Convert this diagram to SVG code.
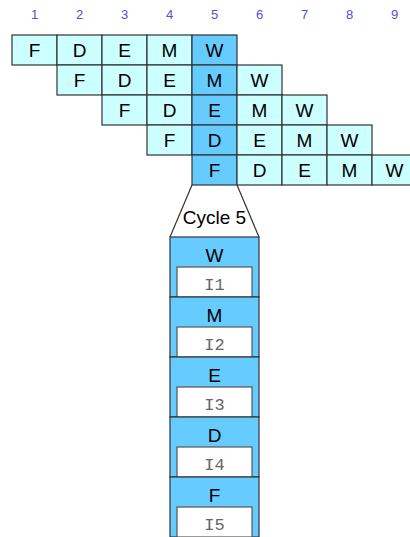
<svg xmlns="http://www.w3.org/2000/svg" width="410" height="537" viewBox="0 0 410 537">
<style>
.num{font-family:"Liberation Sans",Arial,sans-serif;font-size:13px;fill:#5050d8;text-anchor:middle}
.c{fill:#ccffff;stroke:#333;stroke-width:1.2}
.d{fill:#66ccff;stroke:#333;stroke-width:1.2}
.t{font-family:"Liberation Sans",Arial,sans-serif;font-size:19px;fill:#000;text-anchor:middle}
.w{fill:#fff;stroke:#555;stroke-width:1.2}
.m{font-family:"Liberation Mono","Courier New",monospace;font-size:17px;fill:#666;text-anchor:middle}
.ln{stroke:#333;stroke-width:1.2;fill:none}
</style>
<rect width="410" height="537" fill="#fff"/>
<g id="header">
<text class="num" x="34.5" y="19">1</text>
<text class="num" x="79.5" y="19">2</text>
<text class="num" x="124.5" y="19">3</text>
<text class="num" x="169.5" y="19">4</text>
<text class="num" x="214.5" y="19">5</text>
<text class="num" x="259.5" y="19">6</text>
<text class="num" x="304.5" y="19">7</text>
<text class="num" x="349.5" y="19">8</text>
<text class="num" x="394.5" y="19">9</text>
</g>
<g id="row1">
<rect class="c" x="12" y="35" width="45" height="30"/><text class="t" x="34.5" y="57">F</text>
<rect class="c" x="57" y="35" width="45" height="30"/><text class="t" x="79.5" y="57">D</text>
<rect class="c" x="102" y="35" width="45" height="30"/><text class="t" x="124.5" y="57">E</text>
<rect class="c" x="147" y="35" width="45" height="30"/><text class="t" x="169.5" y="57">M</text>
<rect class="d" x="192" y="35" width="45" height="30"/><text class="t" x="214.5" y="57">W</text>
</g>
<g id="row2">
<rect class="c" x="57" y="65" width="45" height="30"/><text class="t" x="79.5" y="87">F</text>
<rect class="c" x="102" y="65" width="45" height="30"/><text class="t" x="124.5" y="87">D</text>
<rect class="c" x="147" y="65" width="45" height="30"/><text class="t" x="169.5" y="87">E</text>
<rect class="d" x="192" y="65" width="45" height="30"/><text class="t" x="214.5" y="87">M</text>
<rect class="c" x="237" y="65" width="45" height="30"/><text class="t" x="259.5" y="87">W</text>
</g>
<g id="row3">
<rect class="c" x="102" y="95" width="45" height="30"/><text class="t" x="124.5" y="117">F</text>
<rect class="c" x="147" y="95" width="45" height="30"/><text class="t" x="169.5" y="117">D</text>
<rect class="d" x="192" y="95" width="45" height="30"/><text class="t" x="214.5" y="117">E</text>
<rect class="c" x="237" y="95" width="45" height="30"/><text class="t" x="259.5" y="117">M</text>
<rect class="c" x="282" y="95" width="45" height="30"/><text class="t" x="304.5" y="117">W</text>
</g>
<g id="row4">
<rect class="c" x="147" y="125" width="45" height="30"/><text class="t" x="169.5" y="147">F</text>
<rect class="d" x="192" y="125" width="45" height="30"/><text class="t" x="214.5" y="147">D</text>
<rect class="c" x="237" y="125" width="45" height="30"/><text class="t" x="259.5" y="147">E</text>
<rect class="c" x="282" y="125" width="45" height="30"/><text class="t" x="304.5" y="147">M</text>
<rect class="c" x="327" y="125" width="45" height="30"/><text class="t" x="349.5" y="147">W</text>
</g>
<g id="row5">
<rect class="d" x="192" y="155" width="45" height="30"/><text class="t" x="214.5" y="177">F</text>
<rect class="c" x="237" y="155" width="45" height="30"/><text class="t" x="259.5" y="177">D</text>
<rect class="c" x="282" y="155" width="45" height="30"/><text class="t" x="304.5" y="177">E</text>
<rect class="c" x="327" y="155" width="45" height="30"/><text class="t" x="349.5" y="177">M</text>
<rect class="c" x="372" y="155" width="45" height="30"/><text class="t" x="394.5" y="177">W</text>
</g>
<g id="connectors">
<line class="ln" x1="192" y1="185" x2="170" y2="237"/>
<line class="ln" x1="237" y1="185" x2="259" y2="237"/>
</g>
<g id="cycle5-label">
<text class="t" x="214.5" y="224">Cycle 5</text>
</g>
<g id="stageW">
<rect class="d" x="170" y="237" width="89" height="60"/><text class="t" x="214.5" y="262">W</text>
<rect class="w" x="177" y="267" width="75" height="30"/><text class="m" x="214.5" y="290">I1</text>
</g>
<g id="stageM">
<rect class="d" x="170" y="297" width="89" height="60"/><text class="t" x="214.5" y="322">M</text>
<rect class="w" x="177" y="327" width="75" height="30"/><text class="m" x="214.5" y="350">I2</text>
</g>
<g id="stageE">
<rect class="d" x="170" y="357" width="89" height="60"/><text class="t" x="214.5" y="382">E</text>
<rect class="w" x="177" y="387" width="75" height="30"/><text class="m" x="214.5" y="410">I3</text>
</g>
<g id="stageD">
<rect class="d" x="170" y="417" width="89" height="60"/><text class="t" x="214.5" y="442">D</text>
<rect class="w" x="177" y="447" width="75" height="30"/><text class="m" x="214.5" y="470">I4</text>
</g>
<g id="stageF">
<rect class="d" x="170" y="477" width="89" height="60"/><text class="t" x="214.5" y="502">F</text>
<rect class="w" x="177" y="507" width="75" height="30"/><text class="m" x="214.5" y="530">I5</text>
</g>
</svg>
